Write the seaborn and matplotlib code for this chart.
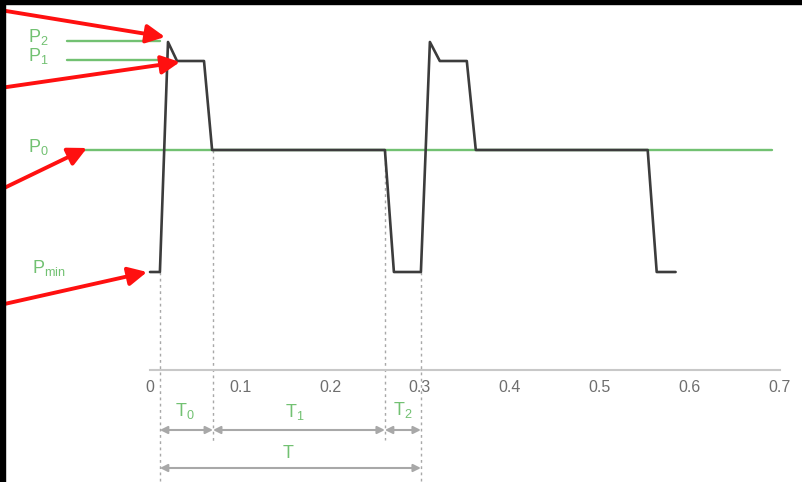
import matplotlib
matplotlib.use("Agg")
from matplotlib import pyplot as plt
from matplotlib.patches import Rectangle
import seaborn as sns

# pressure levels (P0 = baseline)
P2 = 1.08
P1 = 0.89
P0 = 0.0
PMIN = -1.22

# waveform (time in s)
tempo = [0.0, 0.011, 0.020, 0.030, 0.060, 0.069, 0.261, 0.271, 0.301,
         0.311, 0.322, 0.352, 0.362, 0.553, 0.563, 0.584]
pressao = [PMIN, PMIN, P2, P1, P1, P0, P0, PMIN, PMIN,
           P2, P1, P1, P0, P0, PMIN, PMIN]

ticks = [0, 0.1, 0.2, 0.3, 0.4, 0.5, 0.6, 0.7]
tick_labels = ['0', '0.1', '0.2', '0.3', '0.4', '0.5', '0.6', '0.7']

# interval boundaries T0 / T1 / T2
t_ini = 0.011
t_0 = 0.070
t_1 = 0.261
t_2 = 0.301

sns.set_style('white')
plt.rcParams['font.family'] = ['Liberation Sans', 'DejaVu Sans']
plt.rcParams['mathtext.fontset'] = 'custom'
plt.rcParams['mathtext.rm'] = 'Liberation Sans'
plt.rcParams['mathtext.it'] = 'Liberation Sans'

verde = '#72c172'
cinza = '#a8a8a8'

fig = plt.figure(figsize=(8.03, 4.82), dpi=100)
ax = fig.add_axes([0, 0, 1, 1])
ax.set_xlim(-0.16667, 0.72556)
ax.set_ylim(-3.32, 1.5)

# green reference levels
ax.plot([-0.092, 0.691], [P0, P0], color=verde, lw=1.7, zorder=1)
ax.plot([-0.092, 0.011], [P2 + 0.01, P2 + 0.01], color=verde, lw=1.7)
ax.plot([-0.092, 0.009], [P1 + 0.01, P1 + 0.01], color=verde, lw=1.7)

sns.lineplot(x=tempo, y=pressao, sort=False, estimator=None,
             color='#3c3c3c', lw=1.9, ax=ax, zorder=3)

# dotted guides
for tx, y0, y1 in [(t_ini, PMIN, -3.32), (t_0, P0, -2.92),
                   (t_1, P0, -2.90), (t_2, PMIN, -3.32)]:
    ax.plot([tx, tx], [y0, y1], color=cinza, lw=1, ls=(0, (2, 2.5)), zorder=0)

# x axis
for s in ['top', 'right', 'left']:
    ax.spines[s].set_visible(False)
ax.spines['bottom'].set_position(('data', -2.2))
ax.spines['bottom'].set_bounds(0, 0.7)
ax.spines['bottom'].set_color('#c8c8c8')
ax.spines['bottom'].set_linewidth(1.5)
ax.set_xticks(ticks)
ax.set_xticklabels(tick_labels)
ax.tick_params(axis='x', length=0, pad=7, labelsize=11.5, labelcolor='#6e6e6e')
ax.set_yticks([])

# level labels
ax.text(-0.124, 1.13, r'P$_2$', color=verde, fontsize=13, ha='center', va='center')
ax.text(-0.124, 0.94, r'P$_1$', color=verde, fontsize=13, ha='center', va='center')
ax.text(-0.124, 0.03, r'P$_0$', color=verde, fontsize=13, ha='center', va='center')
ax.text(-0.112, -1.18, r'P$_{\rm min}$', color=verde, fontsize=13, ha='center', va='center')

# dimension arrows
dim = dict(arrowstyle='<|-|>', color=cinza, lw=1.5, mutation_scale=11,
           shrinkA=0, shrinkB=0)
for a, b in [(t_ini, t_0), (t_0, t_1), (t_1, t_2)]:
    ax.annotate('', xy=(b, -2.8), xytext=(a, -2.8), arrowprops=dim)
ax.annotate('', xy=(t_2, -3.18), xytext=(t_ini, -3.18), arrowprops=dim)
ax.text(0.039, -2.61, r'T$_0$', color=verde, fontsize=13, ha='center', va='center')
ax.text(0.161, -2.62, r'T$_1$', color=verde, fontsize=13, ha='center', va='center')
ax.text(0.281, -2.60, r'T$_2$', color=verde, fontsize=13, ha='center', va='center')
ax.text(0.153, -3.03, 'T', color=verde, fontsize=13, ha='center', va='center')

# red pointer arrows
seta = dict(arrowstyle='-|>', color='#ff1010', lw=2.8, mutation_scale=28,
            shrinkA=0, shrinkB=0)
for tail, tip in [((-0.1667, 1.40), (0.0167, 1.13)),
                  ((-0.1667, 0.62), (0.0333, 0.88)),
                  ((-0.1667, -0.40), (-0.070, 0.02)),
                  ((-0.1667, -1.55), (-0.0033, -1.22))]:
    ax.annotate('', xy=tip, xytext=tail, arrowprops=seta, zorder=5)

# black frame edges of the screenshot
fig.patches.append(Rectangle((0, 1 - 4 / 482), 1, 4 / 482, transform=fig.transFigure,
                             color='black', zorder=10))
fig.patches.append(Rectangle((0, 0), 5 / 803, 1, transform=fig.transFigure,
                             color='black', zorder=10))

fig.savefig('out.png', dpi=100)
